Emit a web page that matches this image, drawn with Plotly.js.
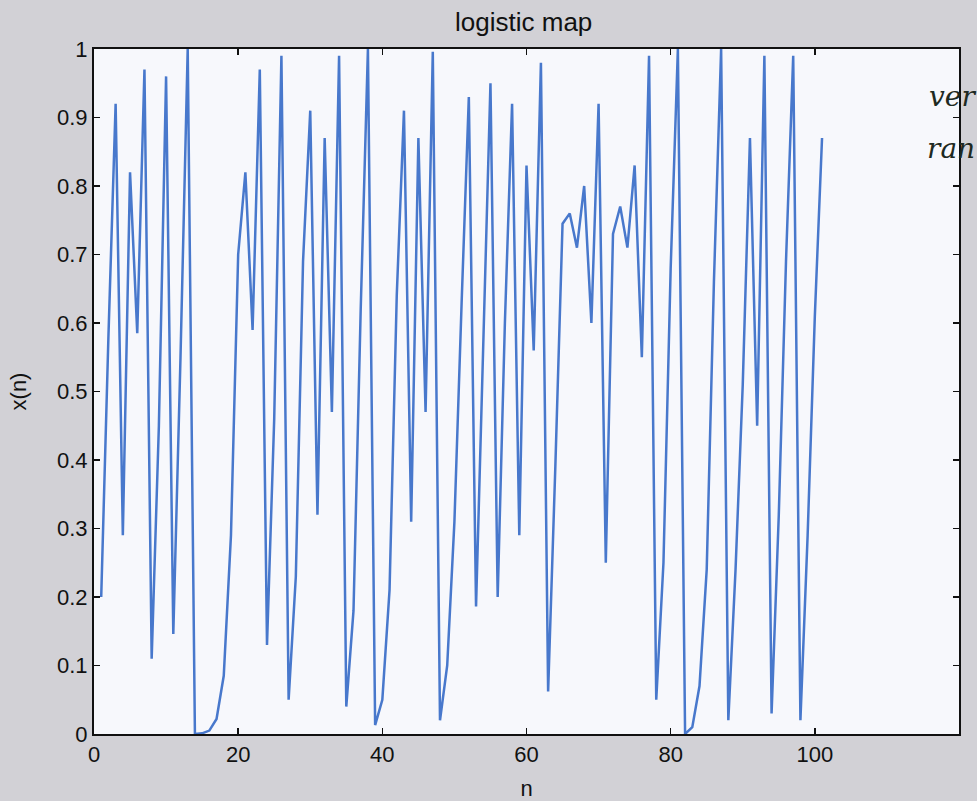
<!DOCTYPE html>
<html>
<head>
<meta charset="utf-8">
<script src="https://cdn.plot.ly/plotly-3.0.1.min.js"></script>
<style>
html,body{margin:0;padding:0;background:#d2d1d6;}
#chart{width:977px;height:801px;}
</style>
</head>
<body>
<div id="chart"></div>
<script>
// iteration index n
const nValues = [1,2,3,4,5,6,7,8,9,10,11,12,13,14,15,16,17,18,19,20,
  21,22,23,24,25,26,27,28,29,30,31,32,33,34,35,36,37,38,39,40,
  41,42,43,44,45,46,47,48,49,50,51,52,53,54,55,56,57,58,59,60,
  61,62,63,64,65,66,67,68,69,70,71,72,73,74,75,76,77,78,79,80,
  81,82,83,84,85,86,87,88,89,90,91,92,93,94,95,96,97,98,99,100,101];
// x(n)
const xValues = [0.20,0.58,0.92,0.29,0.82,0.585,0.97,0.11,0.45,0.96,
  0.146,0.55,1.0,0.0,0.001,0.005,0.022,0.085,0.29,0.70,
  0.82,0.59,0.97,0.13,0.46,0.99,0.05,0.23,0.69,0.91,
  0.32,0.87,0.47,0.99,0.04,0.18,0.62,1.0,0.013,0.05,
  0.21,0.64,0.91,0.31,0.87,0.47,0.996,0.02,0.10,0.31,
  0.63,0.93,0.186,0.56,0.95,0.20,0.60,0.92,0.29,0.83,
  0.56,0.98,0.062,0.39,0.745,0.76,0.71,0.80,0.60,0.92,
  0.25,0.73,0.77,0.71,0.83,0.55,0.99,0.05,0.25,0.68,
  1.0,0.0,0.01,0.07,0.24,0.66,1.0,0.02,0.24,0.51,
  0.87,0.45,0.99,0.03,0.32,0.69,0.99,0.02,0.29,0.61,0.87];
const xTicks = [0,20,40,60,80,100,120];
const yTicks = [0,0.1,0.2,0.3,0.4,0.5,0.6,0.7,0.8,0.9,1];
const yTickText = ['0','0.1','0.2','0.3','0.4','0.5','0.6','0.7','0.8','0.9','1'];

const trace = {
  x: nValues, y: xValues, type: 'scatter', mode: 'lines',
  line: {color: '#4878cc', width: 2.5},
  hoverinfo: 'skip', showlegend: false
};
const fontFam = 'Liberation Sans, Arial, sans-serif';
const layout = {
  width: 977, height: 801,
  paper_bgcolor: '#d2d1d6',
  plot_bgcolor: '#f7f8fc',
  margin: {l: 94, r: 18, t: 49, b: 67, pad: 0},
  title: {text: 'logistic map', font: {family: fontFam, size: 26, color: '#111'},
          x: 0.536, xanchor: 'center', y: 0.973, yanchor: 'middle'},
  xaxis: {
    range: [0, 120], tickvals: xTicks, ticktext: xTicks.map(String),
    ticks: 'inside', ticklen: 6, tickcolor: '#111', tickwidth: 1.5,
    showline: true, linecolor: '#111', linewidth: 2, mirror: 'ticks',
    showgrid: false, zeroline: false,
    tickfont: {family: fontFam, size: 22, color: '#111'},
    title: {text: 'n', font: {family: fontFam, size: 22, color: '#111'}, standoff: 18},
    automargin: false
  },
  yaxis: {
    range: [0, 1], tickvals: yTicks, ticktext: yTickText,
    ticks: 'inside', ticklen: 6, tickcolor: '#111', tickwidth: 1.5,
    showline: true, linecolor: '#111', linewidth: 2, mirror: 'ticks',
    showgrid: false, zeroline: false,
    tickfont: {family: fontFam, size: 22, color: '#111'},
    title: {text: 'x(n)', font: {family: fontFam, size: 22, color: '#111'}, standoff: 24},
    automargin: false
  },
  annotations: [
    {text: 'ver', xref: 'paper', yref: 'paper', x: 1.0, y: 0.93, xanchor: 'left', yanchor: 'middle',
     xshift: -32, showarrow: false, font: {family: 'DejaVu Serif, serif', size: 28, color: '#1e2a22', style: 'italic'}},
    {text: 'ran', xref: 'paper', yref: 'paper', x: 1.0, y: 0.855, xanchor: 'left', yanchor: 'middle',
     xshift: -34, showarrow: false, font: {family: 'DejaVu Serif, serif', size: 28, color: '#1e2a22', style: 'italic'}}
  ]
};
Plotly.newPlot('chart', [trace], layout, {displayModeBar: false, staticPlot: true});
</script>
</body>
</html>
